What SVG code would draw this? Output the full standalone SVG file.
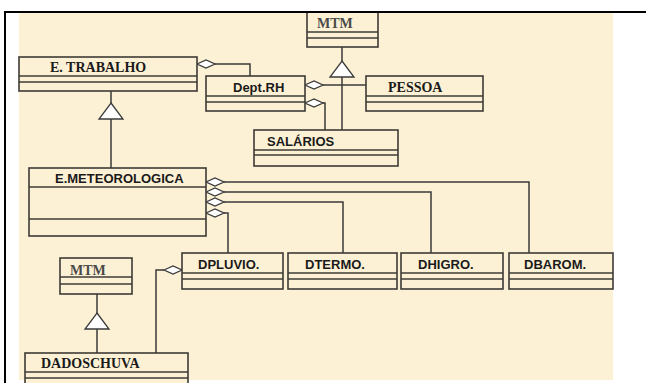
<svg xmlns="http://www.w3.org/2000/svg" width="646" height="383" viewBox="0 0 646 383">
<style>
.box{fill:#fdf1d5;stroke:#3d3b36;stroke-width:1.6}
.sep{stroke:#3d3b36;stroke-width:1.6}
.ln{fill:none;stroke:#3a3a3a;stroke-width:1.5}
.dia{fill:#ffffff;stroke:#3a3a3a;stroke-width:1.3}
.tri{fill:#ffffff;stroke:#3a3a3a;stroke-width:1.3}
.serif{font-family:"Liberation Serif","Times New Roman",serif;font-weight:bold;font-size:14px;fill:#1a1a1a}
.gray{fill:#4a4a4a}
.sans{font-family:"Liberation Sans",Arial,sans-serif;font-weight:bold;font-size:13px;fill:#1a1a1a}
</style>
<rect x="0" y="0" width="646" height="383" fill="#ffffff"/>
<rect x="19" y="12" width="594" height="368" fill="#fdf1d5"/>
<g id="connectors">
<!-- E.TRABALHO - Dept.RH -->
<polyline class="ln" points="215,64 250,64 250,76"/>
<polygon class="dia" points="197,64 206,60 215,64 206,68"/>
<!-- Dept.RH - PESSOA -->
<line class="ln" x1="323" y1="85" x2="366" y2="85"/>
<polygon class="dia" points="305,85 314,81 323,85 314,89"/>
<!-- Dept.RH - SALARIOS -->
<polyline class="ln" points="323,103 325,103 325,130"/>
<polygon class="dia" points="305,103 314,99 323,103 314,107"/>
<!-- MTM - SALARIOS generalization -->
<line class="ln" x1="342" y1="47" x2="342" y2="61"/>
<line class="ln" x1="342" y1="77" x2="342" y2="130"/>
<polygon class="tri" points="342,61 354,77 330,77"/>
<!-- E.TRABALHO - E.METEOROLOGICA generalization -->
<line class="ln" x1="111" y1="91" x2="111" y2="103"/>
<line class="ln" x1="111" y1="119" x2="111" y2="168"/>
<polygon class="tri" points="111,103 123,119 99,119"/>
<!-- E.METEOROLOGICA aggregations -->
<polyline class="ln" points="224,182 529,182 529,253"/>
<polyline class="ln" points="224,192 431,192 431,253"/>
<polyline class="ln" points="224,202 343,202 343,253"/>
<polyline class="ln" points="224,213 228,213 228,253"/>
<polygon class="dia" points="206,182 215,178 224,182 215,186"/>
<polygon class="dia" points="206,192 215,188 224,192 215,196"/>
<polygon class="dia" points="206,202 215,198 224,202 215,206"/>
<polygon class="dia" points="206,213 215,209 224,213 215,217"/>
<!-- DPLUVIO - DADOSCHUVA -->
<polyline class="ln" points="164,270 156,270 156,353"/>
<polygon class="dia" points="164,270 173,266 182,270 173,274"/>
<!-- MTM - DADOSCHUVA generalization -->
<line class="ln" x1="97" y1="294" x2="97" y2="313"/>
<line class="ln" x1="97" y1="329" x2="97" y2="353"/>
<polygon class="tri" points="97,313 109,329 85,329"/>
</g>
<g id="mtm-top">
<rect class="box" x="307" y="12" width="71" height="35"/>
<line class="sep" x1="307" y1="32" x2="378" y2="32"/>
<line class="sep" x1="307" y1="38" x2="378" y2="38"/>
<text class="serif gray" x="317" y="28">MTM</text>
</g>
<g id="e-trabalho">
<rect class="box" x="19" y="57" width="178" height="34"/>
<line class="sep" x1="19" y1="76" x2="197" y2="76"/>
<line class="sep" x1="19" y1="82" x2="197" y2="82"/>
<text class="serif" x="50" y="72">E. TRABALHO</text>
</g>
<g id="dept-rh">
<rect class="box" x="206" y="76" width="99" height="35"/>
<line class="sep" x1="206" y1="96" x2="305" y2="96"/>
<line class="sep" x1="206" y1="102" x2="305" y2="102"/>
<text class="sans" x="233" y="92">Dept.RH</text>
</g>
<g id="pessoa">
<rect class="box" x="366" y="76" width="117" height="35"/>
<line class="sep" x1="366" y1="96" x2="483" y2="96"/>
<line class="sep" x1="366" y1="102" x2="483" y2="102"/>
<text class="serif" x="388" y="92">PESSOA</text>
</g>
<g id="salarios">
<rect class="box" x="254" y="130" width="144" height="36"/>
<line class="sep" x1="254" y1="150" x2="398" y2="150"/>
<line class="sep" x1="254" y1="155" x2="398" y2="155"/>
<text class="sans" x="267" y="146">SALÁRIOS</text>
</g>
<g id="e-meteorologica">
<rect class="box" x="29" y="168" width="177" height="68"/>
<line class="sep" x1="29" y1="187" x2="206" y2="187"/>
<line class="sep" x1="29" y1="219" x2="206" y2="219"/>
<text class="sans" x="55" y="183">E.METEOROLOGICA</text>
</g>
<g id="dpluvio">
<rect class="box" x="182" y="253" width="101" height="36"/>
<line class="sep" x1="182" y1="273" x2="283" y2="273"/>
<line class="sep" x1="182" y1="279" x2="283" y2="279"/>
<text class="sans" x="198" y="269">DPLUVIO.</text>
</g>
<g id="dtermo">
<rect class="box" x="288" y="253" width="109" height="36"/>
<line class="sep" x1="288" y1="273" x2="397" y2="273"/>
<line class="sep" x1="288" y1="279" x2="397" y2="279"/>
<text class="sans" x="305" y="269">DTERMO.</text>
</g>
<g id="dhigro">
<rect class="box" x="401" y="253" width="102" height="36"/>
<line class="sep" x1="401" y1="273" x2="503" y2="273"/>
<line class="sep" x1="401" y1="279" x2="503" y2="279"/>
<text class="sans" x="418" y="269">DHIGRO.</text>
</g>
<g id="dbarom">
<rect class="box" x="509" y="253" width="104" height="36"/>
<line class="sep" x1="509" y1="273" x2="613" y2="273"/>
<line class="sep" x1="509" y1="279" x2="613" y2="279"/>
<text class="sans" x="524" y="269">DBAROM.</text>
</g>
<g id="mtm-bottom">
<rect class="box" x="60" y="258" width="72" height="36"/>
<line class="sep" x1="60" y1="277" x2="132" y2="277"/>
<line class="sep" x1="60" y1="284" x2="132" y2="284"/>
<text class="serif gray" x="70" y="275">MTM</text>
</g>
<g id="dadoschuva">
<rect class="box" x="25" y="353" width="163" height="40"/>
<line class="sep" x1="25" y1="372" x2="188" y2="372"/>
<line class="sep" x1="25" y1="378" x2="188" y2="378"/>
<text class="serif" x="41" y="368">DADOSCHUVA</text>
</g>
<g id="frame">
<line x1="4" y1="12" x2="646" y2="12" stroke="#000" stroke-width="2"/>
<line x1="5" y1="11" x2="5" y2="383" stroke="#000" stroke-width="2"/>
</g>
</svg>
